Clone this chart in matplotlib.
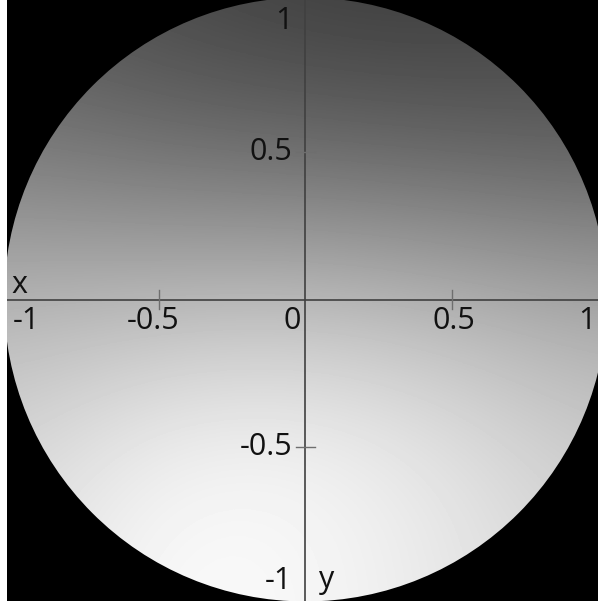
import numpy as np
import matplotlib
matplotlib.use("Agg")
import matplotlib.pyplot as plt
from matplotlib.patches import Circle

# Brightness (0-255) of the shaded disk sampled on a regular grid,
# rows from y = 1 down to y = -1, columns from x = -1 to x = 1.
grid_x = [-1.0, -0.5, 0.0, 0.5, 1.0]
grid_y = [1.0, 0.5, 0.0, -0.5, -1.0]
shade = np.array([
    [86, 72, 62, 60, 70],
    [124, 112, 106, 100, 94],
    [180, 184, 188, 178, 165],
    [212, 242, 246, 228, 202],
    [225, 252, 248, 232, 212],
], dtype=float)

disk_radius = 1.03
x_ticks = [-0.5, 0.5]
y_ticks = [-0.5, 0.5]
x_tick_labels = {-1.0: "-1", -0.5: "-0.5", 0.0: "0", 0.5: "0.5", 1.0: "1"}
y_tick_labels = {1.0: "1", 0.5: "0.5", -0.5: "-0.5", -1.0: "-1"}

W, H = 598, 601
fig = plt.figure(figsize=(W / 100, H / 100), dpi=100, facecolor="white")
ax = fig.add_axes([7 / W, 0, (W - 7) / W, 1])
ax.set_xlim(-1.017, 0.9966)
ax.set_ylim(-1.0255, 1.0187)
ax.set_axis_off()
ax.add_patch(plt.Rectangle((-2, -2), 4, 4, color="black", zorder=0))

dx = grid_x[1] - grid_x[0]
img = ax.imshow(shade, cmap="gray", vmin=0, vmax=255,
                extent=[grid_x[0] - dx / 2, grid_x[-1] + dx / 2,
                        grid_y[-1] - dx / 2, grid_y[0] + dx / 2],
                interpolation="bicubic", zorder=1, aspect="auto")
clip = Circle((0, 0), disk_radius, transform=ax.transData)
img.set_clip_path(clip)
ax.add_patch(Circle((0, 0), disk_radius, fill=False, edgecolor="black",
                    linewidth=1.2, zorder=2))

axis_color = "#404040"
ax.axhline(0, color=axis_color, lw=1.2, zorder=3)
ax.axvline(0, color=axis_color, lw=1.2, zorder=3)
tick_color = "#6e6e6e"
for t in x_ticks:
    ax.plot([t, t], [-0.034, 0.034], color=tick_color, lw=1.0, zorder=3)
for t in y_ticks:
    ax.plot([-0.034, 0.034], [t, t], color=tick_color, lw=1.0, zorder=3)

font = dict(family=["Open Sans", "DejaVu Sans"], fontsize=22, color="#111111", zorder=4)
label_y = -0.100
ax.text(-0.997, label_y, x_tick_labels[-1.0], ha="left", va="baseline", **font)
ax.text(-0.518, label_y, x_tick_labels[-0.5], ha="center", va="baseline", **font)
ax.text(-0.046, label_y, x_tick_labels[0.0], ha="center", va="baseline", **font)
ax.text(0.506, label_y, x_tick_labels[0.5], ha="center", va="baseline", **font)
ax.text(0.988, label_y, x_tick_labels[1.0], ha="right", va="baseline", **font)

label_x = -0.044
ax.text(label_x, 0.947, y_tick_labels[1.0], ha="right", va="center", **font)
ax.text(label_x, 0.5, y_tick_labels[0.5], ha="right", va="center", **font)
ax.text(label_x, -0.502, y_tick_labels[-0.5], ha="right", va="center", **font)
ax.text(label_x, -0.957, y_tick_labels[-1.0], ha="right", va="center", **font)

ax.text(-1.003, 0.022, "x", ha="left", va="baseline", **font)
ax.text(0.046, -0.98, "y", ha="left", va="baseline", **font)

fig.savefig("out.png", dpi=100, facecolor="white")
